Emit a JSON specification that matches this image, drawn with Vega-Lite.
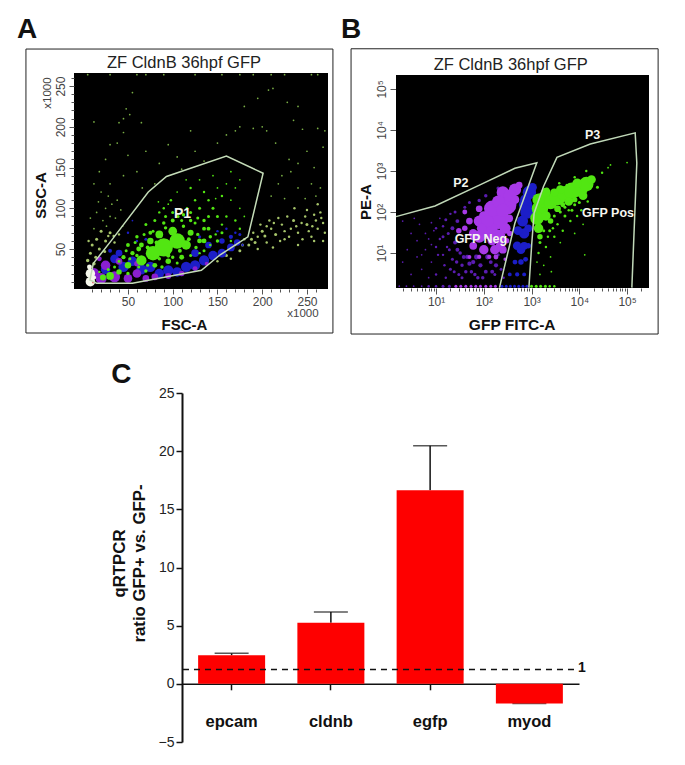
{"$schema":"https://vega.github.io/schema/vega-lite/v6.json","padding":0,"background":"white","spacing":0,"config":{"font":"Liberation Sans","view":{"stroke":null},"axis":{"grid":false}},
"vconcat":[{"spacing":0,"hconcat":[
{"width":254,"height":216,"view":{"fill":"#000000","stroke":null},
"encoding":{"x":{"field":"x","type":"quantitative","scale":{"domain":[-10.3,273.5],"nice":false,"zero":false},"axis":{"title":"FSC-A","titleFontSize":15,"titleFontWeight":"bold","titleColor":"#111","titleX":110,"titleY":35,"titleBaseline":"middle","titleAnchor":"middle","values":[10,20,30,40,50,60,70,80,90,100,110,120,130,140,150,160,170,180,190,200,210,220,230,240,250,260],"labelExpr":"datum.value%50===0?datum.value:''","labelFontSize":12,"labelColor":"#444","labelPadding":2,"labelOverlap":false,"domain":false,"tickColor":"#555","tickSize":{"condition":{"test":"datum.value%50===0","value":5},"value":3}}},
"y":{"field":"y","type":"quantitative","scale":{"domain":[1,266],"nice":false,"zero":false},"axis":{"title":"SSC-A","titleFontSize":15,"titleFontWeight":"bold","titleColor":"#111","titleX":-33.5,"titleY":122,"titleAngle":-90,"titleBaseline":"middle","titleAnchor":"middle","values":[10,20,30,40,50,60,70,80,90,100,110,120,130,140,150,160,170,180,190,200,210,220,230,240,250,260],"labelExpr":"datum.value%50===0?datum.value:''","labelFontSize":12,"labelColor":"#444","labelAngle":-90,"labelAlign":"center","labelBaseline":"middle","labelPadding":9,"labelOverlap":false,"domain":false,"tickColor":"#555","tickSize":{"condition":{"test":"datum.value%50===0","value":5},"value":3}}}},
"layer":[
{"data":{"values":[{"x":-92,"x2":286.8,"y":355.5,"y2":-64.1}]},"mark":{"type":"rect","opacity":0},"encoding":{"x2":{"field":"x2"},"y2":{"field":"y2"}}},
{"data":{"values":[{"x":-64,"x2":279,"y":295.4,"y2":-53}]},"mark":{"type":"rect","fill":null,"stroke":"#222","strokeWidth":1},"encoding":{"x2":{"field":"x2"},"y2":{"field":"y2"}}},
{"data":{"values":[
{"x":5,"y":264,"pop":"bg","n":1},{"x":30,"y":264,"pop":"bg","n":1},{"x":60,"y":264,"pop":"bg","n":1},{"x":70,"y":264,"pop":"bg","n":1},{"x":90,"y":264,"pop":"bg","n":1},{"x":125,"y":264,"pop":"bg","n":1},{"x":155,"y":264,"pop":"bg","n":1},{"x":175,"y":264,"pop":"bg","n":1},{"x":190,"y":264,"pop":"bg","n":1},{"x":210,"y":264,"pop":"bg","n":1},{"x":225,"y":264,"pop":"bg","n":1},{"x":255,"y":264,"pop":"bg","n":1},{"x":262,"y":264,"pop":"bg","n":1},
{"x":55,"y":242,"pop":"bg","n":1},{"x":48,"y":222,"pop":"bg","n":1},{"x":52,"y":215,"pop":"bg","n":1},{"x":45,"y":210,"pop":"bg","n":1},{"x":40,"y":205,"pop":"bg","n":1},{"x":12,"y":206,"pop":"bg","n":1},{"x":45,"y":193,"pop":"bg","n":1},{"x":38,"y":180,"pop":"bg","n":1},{"x":30,"y":178,"pop":"bg","n":1},{"x":25,"y":160,"pop":"bg","n":1},{"x":50,"y":165,"pop":"bg","n":1},{"x":70,"y":170,"pop":"bg","n":1},{"x":85,"y":155,"pop":"bg","n":1},{"x":105,"y":163,"pop":"bg","n":1},{"x":125,"y":170,"pop":"bg","n":1},{"x":135,"y":158,"pop":"bg","n":1},{"x":150,"y":180,"pop":"bg","n":1},{"x":160,"y":190,"pop":"bg","n":1},{"x":170,"y":195,"pop":"bg","n":1},{"x":175,"y":200,"pop":"bg","n":1},{"x":190,"y":198,"pop":"bg","n":1},{"x":200,"y":200,"pop":"bg","n":1},{"x":205,"y":195,"pop":"bg","n":1},{"x":180,"y":225,"pop":"bg","n":1},{"x":195,"y":235,"pop":"bg","n":1},{"x":207,"y":245,"pop":"bg","n":1},{"x":212,"y":247,"pop":"bg","n":1},{"x":228,"y":230,"pop":"bg","n":1},{"x":240,"y":225,"pop":"bg","n":1},{"x":235,"y":208,"pop":"bg","n":1},{"x":245,"y":197,"pop":"bg","n":1},{"x":262,"y":198,"pop":"bg","n":1},{"x":270,"y":195,"pop":"bg","n":1},{"x":250,"y":170,"pop":"bg","n":1},{"x":268,"y":175,"pop":"bg","n":1},{"x":230,"y":160,"pop":"bg","n":1},{"x":240,"y":155,"pop":"bg","n":1},{"x":232,"y":145,"pop":"bg","n":1},{"x":255,"y":130,"pop":"bg","n":1},{"x":265,"y":125,"pop":"bg","n":1},{"x":222,"y":140,"pop":"bg","n":1},{"x":218,"y":130,"pop":"bg","n":1},{"x":240,"y":125,"pop":"bg","n":1},{"x":260,"y":115,"pop":"bg","n":1},{"x":60,"y":145,"pop":"bg","n":1},{"x":45,"y":140,"pop":"bg","n":1},{"x":30,"y":130,"pop":"bg","n":1},{"x":18,"y":145,"pop":"bg","n":1},{"x":12,"y":130,"pop":"bg","n":1},{"x":20,"y":120,"pop":"bg","n":1},{"x":28,"y":115,"pop":"bg","n":1},{"x":32,"y":105,"pop":"bg","n":1},{"x":25,"y":100,"pop":"bg","n":1},{"x":38,"y":110,"pop":"bg","n":1},{"x":15,"y":95,"pop":"bg","n":1},{"x":30,"y":90,"pop":"bg","n":1},{"x":22,"y":85,"pop":"bg","n":1},{"x":36,"y":88,"pop":"bg","n":1},{"x":12,"y":75,"pop":"bg","n":1},{"x":42,"y":98,"pop":"bg","n":1},{"x":17,"y":108,"pop":"bg","n":1},{"x":8,"y":88,"pop":"bg","n":1},{"x":26,"y":78,"pop":"bg","n":1},{"x":44,"y":78,"pop":"bg","n":1},{"x":80,"y":130,"pop":"bg","n":1},{"x":66,"y":125,"pop":"bg","n":1},{"x":110,"y":148,"pop":"bg","n":1},{"x":95,"y":178,"pop":"bg","n":1},{"x":65,"y":205,"pop":"bg","n":1},{"x":120,"y":195,"pop":"bg","n":1},{"x":215,"y":180,"pop":"bg","n":1},{"x":258,"y":150,"pop":"bg","n":1},{"x":225,"y":112,"pop":"bg","n":1},{"x":248,"y":112,"pop":"bg","n":1},{"x":210,"y":115,"pop":"bg","n":1},
{"x":20,"y":72,"pop":"tail","n":3},{"x":30,"y":70,"pop":"tail","n":3},{"x":40,"y":68,"pop":"tail","n":2},{"x":15,"y":62,"pop":"tail","n":3},{"x":25,"y":60,"pop":"tail","n":3},{"x":35,"y":58,"pop":"tail","n":2},{"x":10,"y":55,"pop":"tail","n":3},{"x":18,"y":50,"pop":"tail","n":3},{"x":8,"y":45,"pop":"tail","n":3},{"x":14,"y":40,"pop":"tail","n":3},{"x":6,"y":60,"pop":"tail","n":2},{"x":24,"y":47,"pop":"tail","n":3},{"x":12,"y":32,"pop":"tail","n":4},{"x":5,"y":36,"pop":"tail","n":4},{"x":28,"y":66,"pop":"tail","n":2},{"x":34,"y":66,"pop":"tail","n":2},
{"x":170,"y":55,"pop":"tail","n":2},{"x":180,"y":62,"pop":"tail","n":2},{"x":190,"y":70,"pop":"tail","n":2},{"x":195,"y":65,"pop":"tail","n":2},{"x":200,"y":72,"pop":"tail","n":3},{"x":205,"y":78,"pop":"tail","n":2},{"x":210,"y":75,"pop":"tail","n":2},{"x":215,"y":68,"pop":"tail","n":3},{"x":220,"y":60,"pop":"tail","n":2},{"x":222,"y":80,"pop":"tail","n":2},{"x":225,"y":72,"pop":"tail","n":2},{"x":230,"y":65,"pop":"tail","n":2},{"x":235,"y":85,"pop":"tail","n":3},{"x":238,"y":78,"pop":"tail","n":2},{"x":240,"y":70,"pop":"tail","n":2},{"x":245,"y":62,"pop":"tail","n":2},{"x":248,"y":90,"pop":"tail","n":2},{"x":250,"y":80,"pop":"tail","n":3},{"x":252,"y":72,"pop":"tail","n":2},{"x":255,"y":65,"pop":"tail","n":2},{"x":258,"y":92,"pop":"tail","n":2},{"x":260,"y":85,"pop":"tail","n":2},{"x":262,"y":75,"pop":"tail","n":2},{"x":265,"y":95,"pop":"tail","n":2},{"x":268,"y":82,"pop":"tail","n":2},{"x":270,"y":70,"pop":"tail","n":2},{"x":228,"y":90,"pop":"tail","n":2},{"x":218,"y":88,"pop":"tail","n":2},{"x":208,"y":85,"pop":"tail","n":2},{"x":198,"y":80,"pop":"tail","n":2},{"x":185,"y":55,"pop":"tail","n":3},{"x":175,"y":48,"pop":"tail","n":3},{"x":160,"y":42,"pop":"tail","n":3},{"x":150,"y":35,"pop":"tail","n":2},{"x":165,"y":38,"pop":"tail","n":2},{"x":195,"y":50,"pop":"tail","n":2},{"x":205,"y":58,"pop":"tail","n":2},{"x":212,"y":52,"pop":"tail","n":2},{"x":240,"y":55,"pop":"tail","n":2},{"x":258,"y":60,"pop":"tail","n":2},{"x":268,"y":60,"pop":"tail","n":2},{"x":250,"y":98,"pop":"tail","n":2},{"x":262,"y":105,"pop":"tail","n":2},{"x":236,"y":100,"pop":"tail","n":2},{"x":188,"y":62,"pop":"tail","n":3},{"x":192,"y":58,"pop":"tail","n":3},{"x":203,"y":66,"pop":"tail","n":3},{"x":213,"y":82,"pop":"tail","n":2},{"x":178,"y":55,"pop":"tail","n":3},{"x":225,"y":62,"pop":"tail","n":2},{"x":232,"y":75,"pop":"tail","n":2},{"x":244,"y":82,"pop":"tail","n":2},{"x":256,"y":78,"pop":"tail","n":2},{"x":266,"y":88,"pop":"tail","n":2},
{"x":25,"y":25,"pop":"blue","n":30},{"x":35,"y":38,"pop":"blue","n":25},{"x":45,"y":28,"pop":"blue","n":35},{"x":55,"y":35,"pop":"blue","n":30},{"x":65,"y":25,"pop":"blue","n":35},{"x":75,"y":28,"pop":"blue","n":35},{"x":85,"y":20,"pop":"blue","n":30},{"x":95,"y":24,"pop":"blue","n":35},{"x":105,"y":22,"pop":"blue","n":30},{"x":115,"y":28,"pop":"blue","n":35},{"x":125,"y":30,"pop":"blue","n":35},{"x":135,"y":36,"pop":"blue","n":35},{"x":145,"y":42,"pop":"blue","n":30},{"x":155,"y":45,"pop":"blue","n":25},{"x":165,"y":52,"pop":"blue","n":20},{"x":172,"y":58,"pop":"blue","n":14},{"x":40,"y":45,"pop":"blue","n":15},{"x":125,"y":45,"pop":"blue","n":20},{"x":140,"y":55,"pop":"blue","n":15},{"x":155,"y":60,"pop":"blue","n":10},{"x":165,"y":65,"pop":"blue","n":6},{"x":30,"y":48,"pop":"blue","n":5},{"x":60,"y":60,"pop":"blue","n":2},{"x":50,"y":70,"pop":"blue","n":2},{"x":70,"y":62,"pop":"blue","n":3},{"x":120,"y":70,"pop":"blue","n":2},{"x":130,"y":65,"pop":"blue","n":3},{"x":170,"y":70,"pop":"blue","n":2},{"x":178,"y":55,"pop":"blue","n":2},{"x":55,"y":85,"pop":"blue","n":1},{"x":160,"y":75,"pop":"blue","n":2},{"x":175,"y":68,"pop":"blue","n":3},{"x":150,"y":72,"pop":"blue","n":2},
{"x":12,"y":20,"pop":"purple","n":40},{"x":20,"y":14,"pop":"purple","n":40},{"x":25,"y":30,"pop":"purple","n":30},{"x":35,"y":16,"pop":"purple","n":40},{"x":40,"y":35,"pop":"purple","n":15},{"x":50,"y":14,"pop":"purple","n":25},{"x":60,"y":20,"pop":"purple","n":25},{"x":70,"y":14,"pop":"purple","n":15},{"x":80,"y":16,"pop":"purple","n":15},{"x":95,"y":17,"pop":"purple","n":12},{"x":110,"y":20,"pop":"purple","n":10},{"x":125,"y":26,"pop":"purple","n":8},{"x":60,"y":32,"pop":"purple","n":10},{"x":138,"y":32,"pop":"purple","n":5},{"x":18,"y":38,"pop":"purple","n":8},
{"x":90,"y":100,"pop":"green","n":2},{"x":95,"y":105,"pop":"green","n":1},{"x":85,"y":95,"pop":"green","n":2},{"x":100,"y":95,"pop":"green","n":3},{"x":110,"y":85,"pop":"green","n":3},{"x":120,"y":95,"pop":"green","n":3},{"x":130,"y":100,"pop":"green","n":3},{"x":125,"y":110,"pop":"green","n":2},{"x":135,"y":120,"pop":"green","n":2},{"x":140,"y":110,"pop":"green","n":2},{"x":150,"y":125,"pop":"green","n":1},{"x":155,"y":115,"pop":"green","n":2},{"x":160,"y":130,"pop":"green","n":1},{"x":170,"y":125,"pop":"green","n":1},{"x":165,"y":110,"pop":"green","n":1},{"x":175,"y":100,"pop":"green","n":1},{"x":145,"y":100,"pop":"green","n":3},{"x":150,"y":90,"pop":"green","n":3},{"x":135,"y":85,"pop":"green","n":4},{"x":160,"y":90,"pop":"green","n":2},{"x":170,"y":85,"pop":"green","n":2},{"x":180,"y":90,"pop":"green","n":1},{"x":175,"y":75,"pop":"green","n":2},{"x":120,"y":125,"pop":"green","n":2},{"x":105,"y":120,"pop":"green","n":1},{"x":115,"y":135,"pop":"green","n":1},{"x":130,"y":135,"pop":"green","n":1},{"x":145,"y":140,"pop":"green","n":1},{"x":165,"y":145,"pop":"green","n":1},{"x":175,"y":135,"pop":"green","n":1},{"x":80,"y":85,"pop":"green","n":3},{"x":70,"y":80,"pop":"green","n":3},{"x":75,"y":70,"pop":"green","n":5},{"x":60,"y":65,"pop":"green","n":4},{"x":140,"y":75,"pop":"green","n":5},{"x":155,"y":70,"pop":"green","n":3},{"x":165,"y":60,"pop":"green","n":2},{"x":150,"y":60,"pop":"green","n":4},{"x":135,"y":60,"pop":"green","n":8},{"x":50,"y":55,"pop":"green","n":5},{"x":55,"y":45,"pop":"green","n":6},{"x":65,"y":55,"pop":"green","n":8},{"x":45,"y":40,"pop":"green","n":6},{"x":112,"y":92,"pop":"green","n":4},{"x":92,"y":90,"pop":"green","n":3},{"x":128,"y":88,"pop":"green","n":3},{"x":142,"y":65,"pop":"green","n":4},{"x":120,"y":42,"pop":"green","n":3},{"x":105,"y":33,"pop":"green","n":3},{"x":135,"y":48,"pop":"green","n":3},{"x":88,"y":28,"pop":"green","n":4},{"x":70,"y":23,"pop":"green","n":4},{"x":50,"y":20,"pop":"green","n":4},{"x":155,"y":80,"pop":"green","n":2},{"x":148,"y":112,"pop":"green","n":1},
{"x":60,"y":42,"pop":"green","n":4},{"x":72,"y":52,"pop":"green","n":5},{"x":82,"y":58,"pop":"green","n":6},{"x":95,"y":42,"pop":"green","n":6},{"x":108,"y":48,"pop":"green","n":5},{"x":118,"y":62,"pop":"green","n":5},{"x":126,"y":52,"pop":"green","n":4},{"x":128,"y":68,"pop":"green","n":4},{"x":112,"y":78,"pop":"green","n":4},{"x":92,"y":76,"pop":"green","n":4},{"x":78,"y":72,"pop":"green","n":3},{"x":68,"y":68,"pop":"green","n":3},{"x":58,"y":58,"pop":"green","n":3},{"x":48,"y":48,"pop":"green","n":3},{"x":40,"y":35,"pop":"green","n":3},{"x":72,"y":30,"pop":"green","n":3},{"x":85,"y":38,"pop":"green","n":4},{"x":100,"y":40,"pop":"green","n":4},{"x":52,"y":38,"pop":"green","n":3},{"x":62,"y":28,"pop":"green","n":3},{"x":35,"y":28,"pop":"green","n":3},{"x":28,"y":25,"pop":"green","n":3},{"x":18,"y":22,"pop":"green","n":2},{"x":130,"y":45,"pop":"green","n":2},{"x":142,"y":55,"pop":"green","n":2},{"x":148,"y":68,"pop":"green","n":2},{"x":106,"y":90,"pop":"green","n":3},{"x":116,"y":100,"pop":"green","n":2},{"x":98,"y":110,"pop":"green","n":2},{"x":84,"y":108,"pop":"green","n":1},{"x":140,"y":90,"pop":"green","n":3},{"x":125,"y":82,"pop":"green","n":3},
{"x":90,"y":52,"pop":"green","n":110},{"x":105,"y":60,"pop":"green","n":80},{"x":78,"y":45,"pop":"green","n":70},{"x":65,"y":36,"pop":"green","n":35},{"x":115,"y":55,"pop":"green","n":30},{"x":100,"y":72,"pop":"green","n":25},{"x":85,"y":68,"pop":"green","n":20},{"x":120,"y":70,"pop":"green","n":12},{"x":50,"y":30,"pop":"green","n":14},{"x":40,"y":22,"pop":"green","n":10},{"x":30,"y":17,"pop":"green","n":20},{"x":22,"y":15,"pop":"green","n":12},{"x":130,"y":60,"pop":"green","n":8},{"x":75,"y":60,"pop":"green","n":14},{"x":62,"y":50,"pop":"green","n":8},{"x":110,"y":40,"pop":"green","n":8},{"x":95,"y":35,"pop":"green","n":10},{"x":80,"y":30,"pop":"green","n":8},{"x":135,"y":75,"pop":"green","n":5},{"x":120,"y":85,"pop":"green","n":4},{"x":100,"y":85,"pop":"green","n":5},{"x":90,"y":82,"pop":"green","n":4},
{"x":8,"y":10,"pop":"core","n":30},{"x":8,"y":20,"pop":"core","n":30},{"x":7,"y":28,"pop":"core","n":8},{"x":12,"y":15,"pop":"core","n":6},{"x":11,"y":9,"pop":"red","n":1}
]},"mark":{"type":"circle","opacity":1},"encoding":{"color":{"field":"pop","type":"nominal","legend":null,"scale":{"domain":["bg","tail","blue","purple","green","core","red","dark","violet"],"range":["#79ad45","#a6c46a","#1c1ec8","#8a1fd0","#52e612","#f6f8ec","#e8304a","#5a1cb0","#a83ae8"]}},"size":{"field":"n","type":"quantitative","legend":null,"scale":{"type":"linear","domain":[1,100],"range":[3,300],"zero":false}}}},
{"data":{"values":[{"x":11.3,"y":32.4,"i":0},{"x":31.8,"y":61,"i":1},{"x":72.7,"y":120,"i":2},{"x":93,"y":139,"i":3},{"x":160,"y":164,"i":4},{"x":201,"y":143,"i":5},{"x":184,"y":65,"i":6},{"x":153,"y":43,"i":7},{"x":132,"y":24,"i":8},{"x":55,"y":8,"i":9},{"x":15,"y":8,"i":10},{"x":7.5,"y":12,"i":11},{"x":11.3,"y":32.4,"i":12}]},"mark":{"type":"line","color":"#c4dcb8","strokeWidth":1.5},"encoding":{"order":{"field":"i"}}},
{"data":{"values":[{"x":111,"y":93,"label":"P1"}]},"mark":{"type":"text","color":"#f4f8ee","fontWeight":"bold","fontSize":14},"encoding":{"text":{"field":"label"}}},
{"data":{"values":[{"x":112.6,"y":278.6,"label":"ZF CldnB 36hpf GFP"}]},"mark":{"type":"text","color":"#222","fontSize":16.5},"encoding":{"text":{"field":"label"}}},
{"data":{"values":[{"x":245.5,"y":-29.8,"label":"x1000"}]},"mark":{"type":"text","color":"#444","fontSize":11.5},"encoding":{"text":{"field":"label"}}},
{"data":{"values":[{"x":-39.7,"y":241.4,"label":"x1000"}]},"mark":{"type":"text","color":"#444","fontSize":11.5,"angle":270},"encoding":{"text":{"field":"label"}}},
{"data":{"values":[{"x":-62.8,"y":318.7,"label":"A"}]},"mark":{"type":"text","color":"#111","fontSize":28,"fontWeight":"bold"},"encoding":{"text":{"field":"label"}}}
]},
{"width":253,"height":215,
"encoding":{"x":{"field":"x","type":"quantitative","scale":{"type":"log","domain":[1.45,288000],"nice":false,"zero":false},"axis":{"title":"GFP FITC-A","titleFontSize":15.5,"titleFontWeight":"bold","titleColor":"#111","titleX":115.7,"titleY":36,"titleBaseline":"middle","titleAnchor":"middle","values":[2,3,4,5,6,7,8,9,10,20,30,40,50,60,70,80,90,100,200,300,400,500,600,700,800,900,1000,2000,3000,4000,5000,6000,7000,8000,9000,10000,20000,30000,40000,50000,60000,70000,80000,90000,100000,200000],"labelExpr":"datum.value===10?'10¹':datum.value===100?'10²':datum.value===1000?'10³':datum.value===10000?'10⁴':datum.value===100000?'10⁵':''","labelFontSize":12,"labelColor":"#444","labelPadding":2,"labelOverlap":false,"domain":false,"tickColor":"#555","tickSize":{"condition":{"test":"datum.value===10||datum.value===100||datum.value===1000||datum.value===10000||datum.value===100000","value":6},"value":3}}},
"y":{"field":"y","type":"quantitative","scale":{"type":"log","domain":[1.4,245000],"nice":false,"zero":false},"axis":{"title":"PE-A","titleFontSize":15,"titleFontWeight":"bold","titleColor":"#111","titleX":-31,"titleY":128.7,"titleAngle":-90,"titleBaseline":"middle","titleAnchor":"middle","values":[10,100,1000,10000,100000],"labelExpr":"datum.value===10?'10¹':datum.value===100?'10²':datum.value===1000?'10³':datum.value===10000?'10⁴':'10⁵'","labelFontSize":12,"labelColor":"#444","labelAngle":-90,"labelAlign":"center","labelBaseline":"middle","labelPadding":9,"labelOverlap":false,"domain":false,"tickColor":"#555","tickSize":6}}},
"layer":[
{"data":{"values":[{"x":0.1074,"x2":1640000,"y":10000000,"y2":0.0676}]},"mark":{"type":"rect","opacity":0},"encoding":{"x2":{"field":"x2"},"y2":{"field":"y2"}}},
{"data":{"values":[{"x":0.166,"x2":447000,"y":955000,"y2":0.1056}]},"mark":{"type":"rect","fill":null,"stroke":"#222","strokeWidth":1},"encoding":{"x2":{"field":"x2"},"y2":{"field":"y2"}}},
{"data":{"values":[{"x":1.45,"x2":288000,"y":219000,"y2":1.4}]},"mark":{"type":"rect","fill":"#000000"},"encoding":{"x2":{"field":"x2"},"y2":{"field":"y2"}}},
{"data":{"values":[
{"x":2,"y":60,"pop":"dark","n":1},{"x":3,"y":30,"pop":"dark","n":1},{"x":2.5,"y":12,"pop":"dark","n":1},{"x":2,"y":6,"pop":"dark","n":1},{"x":3,"y":3,"pop":"dark","n":1},{"x":4,"y":8,"pop":"dark","n":1},{"x":4,"y":20,"pop":"dark","n":1},{"x":4.5,"y":50,"pop":"dark","n":1},{"x":5,"y":4,"pop":"dark","n":1},{"x":6,"y":12,"pop":"dark","n":1},{"x":6,"y":30,"pop":"dark","n":1},{"x":7,"y":2.5,"pop":"dark","n":1},{"x":8,"y":6,"pop":"dark","n":1},{"x":8,"y":16,"pop":"dark","n":1},{"x":8,"y":55,"pop":"dark","n":1},{"x":9,"y":35,"pop":"dark","n":1},{"x":10,"y":3,"pop":"dark","n":2},{"x":11,"y":9,"pop":"dark","n":2},{"x":12,"y":22,"pop":"dark","n":2},{"x":12,"y":70,"pop":"dark","n":1},{"x":14,"y":45,"pop":"dark","n":2},{"x":15,"y":5,"pop":"dark","n":2},{"x":16,"y":2.5,"pop":"dark","n":2},{"x":17,"y":14,"pop":"dark","n":2},{"x":18,"y":30,"pop":"dark","n":3},{"x":20,"y":90,"pop":"dark","n":2},{"x":22,"y":7,"pop":"dark","n":3},{"x":24,"y":3.5,"pop":"dark","n":3},{"x":25,"y":18,"pop":"dark","n":5},{"x":28,"y":60,"pop":"dark","n":5},{"x":32,"y":10,"pop":"dark","n":4},{"x":35,"y":5,"pop":"dark","n":4},{"x":35,"y":2.5,"pop":"dark","n":3},{"x":40,"y":130,"pop":"dark","n":3},{"x":45,"y":8,"pop":"dark","n":6},{"x":55,"y":3.5,"pop":"dark","n":4},{"x":60,"y":6,"pop":"dark","n":6},{"x":75,"y":2.5,"pop":"dark","n":4},{"x":85,"y":5,"pop":"dark","n":6},{"x":110,"y":3.5,"pop":"dark","n":5},{"x":140,"y":6,"pop":"dark","n":5},{"x":170,"y":3,"pop":"dark","n":3},{"x":200,"y":9,"pop":"dark","n":3},{"x":110,"y":250,"pop":"dark","n":4},{"x":200,"y":380,"pop":"dark","n":4},
{"x":5,"y":9,"pop":"dark","n":1},{"x":7,"y":22,"pop":"dark","n":1},{"x":10,"y":14,"pop":"dark","n":2},{"x":10,"y":40,"pop":"dark","n":2},{"x":14,"y":25,"pop":"dark","n":3},{"x":14,"y":9,"pop":"dark","n":2},{"x":19,"y":12,"pop":"dark","n":3},{"x":20,"y":4,"pop":"dark","n":3},{"x":22,"y":40,"pop":"dark","n":5},{"x":27,"y":6,"pop":"dark","n":4},{"x":28,"y":12,"pop":"dark","n":5},{"x":30,"y":3,"pop":"dark","n":3},{"x":38,"y":8,"pop":"dark","n":5},{"x":42,"y":3.5,"pop":"dark","n":4},{"x":50,"y":5.5,"pop":"dark","n":6},{"x":65,"y":3,"pop":"dark","n":4},{"x":70,"y":8,"pop":"dark","n":8},{"x":95,"y":2.5,"pop":"dark","n":4},{"x":120,"y":8,"pop":"dark","n":8},{"x":150,"y":3.5,"pop":"dark","n":5},{"x":180,"y":5,"pop":"dark","n":6},{"x":230,"y":4,"pop":"dark","n":3},{"x":260,"y":2.5,"pop":"dark","n":2},{"x":16,"y":65,"pop":"dark","n":3},{"x":25,"y":100,"pop":"dark","n":3},{"x":50,"y":170,"pop":"dark","n":3},{"x":80,"y":190,"pop":"dark","n":4},{"x":3.5,"y":70,"pop":"dark","n":1},
{"x":1.7,"y":1.55,"pop":"dark","n":1},{"x":2.4,"y":1.55,"pop":"dark","n":1},{"x":3.4,"y":1.55,"pop":"dark","n":1},{"x":5,"y":1.55,"pop":"dark","n":1},{"x":7,"y":1.55,"pop":"dark","n":2},{"x":10,"y":1.55,"pop":"dark","n":2},{"x":14,"y":1.55,"pop":"dark","n":3},{"x":19,"y":1.55,"pop":"dark","n":3},{"x":26,"y":1.55,"pop":"violet","n":3},{"x":33,"y":1.55,"pop":"violet","n":3},{"x":42,"y":1.55,"pop":"violet","n":3},{"x":54,"y":1.55,"pop":"violet","n":3},{"x":68,"y":1.55,"pop":"violet","n":3},{"x":85,"y":1.55,"pop":"violet","n":3},{"x":110,"y":1.55,"pop":"violet","n":3},{"x":140,"y":1.55,"pop":"violet","n":3},{"x":175,"y":1.55,"pop":"violet","n":3},
{"x":240,"y":1.55,"pop":"blue","n":3},{"x":295,"y":1.55,"pop":"blue","n":3},{"x":360,"y":1.55,"pop":"blue","n":3},{"x":440,"y":1.55,"pop":"blue","n":3},{"x":540,"y":1.55,"pop":"blue","n":3},{"x":660,"y":1.55,"pop":"blue","n":3},{"x":800,"y":1.55,"pop":"blue","n":3},
{"x":1000,"y":1.55,"pop":"green","n":3},{"x":1250,"y":1.55,"pop":"green","n":3},{"x":1550,"y":1.55,"pop":"green","n":3},{"x":1950,"y":1.55,"pop":"green","n":3},{"x":2400,"y":1.55,"pop":"green","n":2},{"x":3000,"y":1.55,"pop":"green","n":2},
{"x":900,"y":300,"pop":"blue","n":60},{"x":1050,"y":400,"pop":"blue","n":25},{"x":750,"y":150,"pop":"blue","n":60},{"x":800,"y":100,"pop":"blue","n":60},{"x":650,"y":60,"pop":"blue","n":40},{"x":700,"y":30,"pop":"blue","n":35},{"x":500,"y":15,"pop":"blue","n":25},{"x":600,"y":12,"pop":"blue","n":25},{"x":700,"y":15,"pop":"blue","n":20},{"x":750,"y":200,"pop":"blue","n":40},{"x":450,"y":6,"pop":"blue","n":8},{"x":600,"y":6,"pop":"blue","n":10},{"x":750,"y":7,"pop":"blue","n":8},{"x":350,"y":3,"pop":"blue","n":5},{"x":500,"y":3,"pop":"blue","n":6},{"x":700,"y":3,"pop":"blue","n":5},{"x":850,"y":40,"pop":"blue","n":20},{"x":850,"y":15,"pop":"blue","n":10},{"x":520,"y":35,"pop":"blue","n":25},
{"x":200,"y":70,"pop":"violet","n":150},{"x":130,"y":35,"pop":"violet","n":100},{"x":300,"y":150,"pop":"violet","n":130},{"x":150,"y":120,"pop":"violet","n":90},{"x":80,"y":25,"pop":"violet","n":50},{"x":450,"y":350,"pop":"violet","n":50},{"x":250,"y":300,"pop":"violet","n":50},{"x":80,"y":60,"pop":"violet","n":40},{"x":200,"y":25,"pop":"violet","n":70},{"x":280,"y":40,"pop":"violet","n":40},{"x":100,"y":12,"pop":"violet","n":30},{"x":170,"y":12,"pop":"violet","n":30},{"x":60,"y":15,"pop":"violet","n":20},{"x":50,"y":60,"pop":"violet","n":15},{"x":30,"y":35,"pop":"violet","n":10},{"x":40,"y":100,"pop":"violet","n":8},{"x":250,"y":12,"pop":"violet","n":20},{"x":550,"y":450,"pop":"violet","n":15},{"x":340,"y":70,"pop":"violet","n":20},{"x":80,"y":120,"pop":"violet","n":15},{"x":130,"y":8,"pop":"violet","n":6},{"x":280,"y":7,"pop":"violet","n":4},
{"x":60,"y":30,"pop":"violet","n":25},{"x":100,"y":80,"pop":"violet","n":30},{"x":200,"y":180,"pop":"violet","n":50},{"x":350,"y":250,"pop":"violet","n":50},{"x":120,"y":60,"pop":"violet","n":50},{"x":250,"y":110,"pop":"violet","n":60},{"x":90,"y":40,"pop":"violet","n":30},{"x":150,"y":20,"pop":"violet","n":30},{"x":220,"y":15,"pop":"violet","n":25},{"x":60,"y":25,"pop":"violet","n":15},{"x":40,"y":40,"pop":"violet","n":10},{"x":350,"y":30,"pop":"violet","n":10},{"x":300,"y":20,"pop":"violet","n":10},{"x":180,"y":8,"pop":"violet","n":8},{"x":80,"y":8,"pop":"violet","n":6},{"x":50,"y":8,"pop":"violet","n":5},{"x":450,"y":200,"pop":"violet","n":25},
{"x":1500,"y":120,"pop":"green","n":90},{"x":1300,"y":70,"pop":"green","n":60},{"x":1800,"y":200,"pop":"green","n":80},{"x":2500,"y":170,"pop":"green","n":60},{"x":1400,"y":40,"pop":"green","n":30},{"x":3500,"y":230,"pop":"green","n":90},{"x":5000,"y":280,"pop":"green","n":80},{"x":7000,"y":330,"pop":"green","n":90},{"x":10000,"y":380,"pop":"green","n":100},{"x":14000,"y":480,"pop":"green","n":70},{"x":18000,"y":620,"pop":"green","n":25},{"x":3500,"y":120,"pop":"green","n":15},{"x":2000,"y":80,"pop":"green","n":30},{"x":2500,"y":60,"pop":"green","n":10},{"x":1500,"y":25,"pop":"green","n":10},{"x":8000,"y":200,"pop":"green","n":10},{"x":12000,"y":250,"pop":"green","n":25},{"x":2100,"y":350,"pop":"green","n":6},{"x":4000,"y":350,"pop":"green","n":25},{"x":9000,"y":500,"pop":"green","n":30},{"x":6000,"y":180,"pop":"green","n":25},{"x":3000,"y":300,"pop":"green","n":20},{"x":2000,"y":300,"pop":"green","n":30},{"x":1400,"y":200,"pop":"green","n":50},{"x":24000,"y":400,"pop":"green","n":3},{"x":30000,"y":900,"pop":"green","n":2},{"x":40000,"y":1200,"pop":"green","n":1},{"x":45000,"y":1400,"pop":"green","n":1},{"x":8000,"y":700,"pop":"green","n":2},{"x":14000,"y":1000,"pop":"green","n":2},
{"x":1500,"y":18,"pop":"green","n":3},{"x":1400,"y":10,"pop":"green","n":2},{"x":2000,"y":14,"pop":"green","n":2},{"x":1300,"y":6,"pop":"green","n":1},{"x":1800,"y":5,"pop":"green","n":1},{"x":2500,"y":8,"pop":"green","n":1},{"x":1500,"y":3,"pop":"green","n":1},{"x":2600,"y":3.5,"pop":"green","n":1},{"x":3000,"y":25,"pop":"green","n":2},{"x":2400,"y":35,"pop":"green","n":3},{"x":3500,"y":50,"pop":"green","n":2},{"x":4000,"y":18,"pop":"green","n":1},{"x":4500,"y":35,"pop":"green","n":2},{"x":5000,"y":80,"pop":"green","n":3},{"x":6500,"y":60,"pop":"green","n":2},{"x":7000,"y":110,"pop":"green","n":3},{"x":8000,"y":30,"pop":"green","n":1},{"x":9000,"y":80,"pop":"green","n":2},{"x":11000,"y":110,"pop":"green","n":2},{"x":13000,"y":9,"pop":"green","n":1},{"x":12000,"y":50,"pop":"green","n":1},{"x":15000,"y":180,"pop":"green","n":2},{"x":4500,"y":150,"pop":"green","n":8},{"x":5500,"y":450,"pop":"green","n":3},{"x":3800,"y":500,"pop":"green","n":2},{"x":100000,"y":1600,"pop":"green","n":1},{"x":3000,"y":80,"pop":"green","n":3},{"x":4000,"y":100,"pop":"green","n":3},{"x":2800,"y":40,"pop":"green","n":2},{"x":5000,"y":130,"pop":"green","n":3},{"x":6000,"y":110,"pop":"green","n":2},{"x":8000,"y":150,"pop":"green","n":3},{"x":10000,"y":170,"pop":"green","n":3},{"x":2200,"y":25,"pop":"green","n":2},{"x":1800,"y":35,"pop":"green","n":3}
]},"mark":{"type":"circle","opacity":1},"encoding":{"color":{"field":"pop","type":"nominal","legend":null,"scale":{"domain":["bg","tail","blue","purple","green","core","red","dark","violet"],"range":["#79ad45","#a6c46a","#1c1ec8","#8a1fd0","#52e612","#f6f8ec","#e8304a","#5a1cb0","#a83ae8"]}},"size":{"field":"n","type":"quantitative","legend":null,"scale":{"type":"linear","domain":[1,100],"range":[3,300],"zero":false}}}},
{"data":{"values":[{"x":1.45,"y":77,"i":0},{"x":9.5,"y":140,"i":1},{"x":83,"y":457,"i":2},{"x":447,"y":1160,"i":3},{"x":1288,"y":1590,"i":4},{"x":447,"y":53,"i":5},{"x":213,"y":1.43,"i":6}]},"mark":{"type":"line","color":"#c0d8b8","strokeWidth":1.5},"encoding":{"order":{"field":"i"}}},
{"data":{"values":[{"x":880,"y":1.43,"i":0},{"x":1010,"y":17,"i":1},{"x":1130,"y":93,"i":2},{"x":1770,"y":414,"i":3},{"x":3400,"y":2140,"i":4},{"x":17000,"y":4560,"i":5},{"x":148000,"y":8500,"i":6},{"x":160000,"y":1570,"i":7},{"x":126000,"y":1.43,"i":8}]},"mark":{"type":"line","color":"#c0d8b8","strokeWidth":1.5},"encoding":{"order":{"field":"i"}}},
{"data":{"values":[{"x":33,"y":500,"label":"P2"},{"x":19000,"y":7600,"label":"P3"},{"x":87,"y":22,"label":"GFP Neg"},{"x":40000,"y":96,"label":"GFP Pos"}]},"mark":{"type":"text","color":"#f6f6f0","fontWeight":"bold","fontSize":12.5},"encoding":{"text":{"field":"label"}}},
{"data":{"values":[{"x":366,"y":384000,"label":"ZF CldnB 36hpf GFP"}]},"mark":{"type":"text","color":"#222","fontSize":16.5},"encoding":{"text":{"field":"label"}}},
{"data":{"values":[{"x":0.166,"y":2750000,"label":"B"}]},"mark":{"type":"text","color":"#111","fontSize":28,"fontWeight":"bold"},"encoding":{"text":{"field":"label"}}}
]}
]},
{"width":505,"height":349,"resolve":{"scale":{"x":"independent"},"axis":{"x":"independent"}},
"layer":[
{"data":{"values":[{"u":-1.324,"u2":5.568,"v":29.25,"v2":-6.98}]},"mark":{"type":"rect","opacity":0},"encoding":{"x":{"field":"u","type":"quantitative","axis":null,"scale":{"domain":[-0.588,4.5],"nice":false,"zero":false}},"x2":{"field":"u2"},"y":{"field":"v","type":"quantitative","scale":{"domain":[-5,25],"nice":false},"axis":{"title":["qRTPCR","ratio GFP+ vs. GFP-"],"titleFontSize":16.8,"titleFontWeight":"bold","titleColor":"#111","titleLineHeight":20,"titlePadding":10,"titleY":170,"offset":-108,"values":[-5,0,5,10,15,20,25],"labelFontSize":14,"labelColor":"#222","labelPadding":2,"domainColor":"#111","domainWidth":2,"tickColor":"#111","tickWidth":1.5,"tickSize":6}},"y2":{"field":"v2"}}},
{"data":{"values":[{"gene":"epcam","ratio":2.45,"upper":2.62},{"gene":"cldnb","ratio":5.25,"upper":6.17},{"gene":"egfp","ratio":16.63,"upper":20.47},{"gene":"myod","ratio":-1.68,"upper":-1.68}]},
"encoding":{"x":{"field":"gene","type":"nominal","sort":null,"scale":{"domain":["epcam","cldnb","egfp","myod"],"range":[108,505],"paddingInner":0.325,"paddingOuter":0.1625},"axis":{"title":null,"offset":-58.2,"labelAngle":0,"labelFontSize":16.5,"labelFontWeight":"bold","labelColor":"#111","labelPadding":24,"domainColor":"#111","domainWidth":1.5,"tickColor":"#111","tickWidth":1.5,"tickSize":6}}},
"layer":[
{"mark":{"type":"rule","color":"#111","strokeWidth":1.5},"encoding":{"y":{"field":"ratio","type":"quantitative","scale":{"domain":[-5,25],"nice":false}},"y2":{"field":"upper"}}},
{"mark":{"type":"tick","color":"#111","thickness":1.5,"size":34,"orient":"horizontal"},"encoding":{"y":{"field":"upper","type":"quantitative","scale":{"domain":[-5,25],"nice":false}}}},
{"mark":{"type":"bar","color":"#fe0000"},"encoding":{"y":{"field":"ratio","type":"quantitative","scale":{"domain":[-5,25],"nice":false}},"y2":{"datum":0}}}
]},
{"data":{"values":[{"u":0.51,"u2":4.46,"v":1.24}]},"mark":{"type":"rule","color":"#111","strokeWidth":1.5,"strokeDash":[6,5]},"encoding":{"x":{"field":"u","type":"quantitative","axis":null,"scale":{"domain":[-0.588,4.5],"nice":false,"zero":false}},"x2":{"field":"u2"},"y":{"field":"v","type":"quantitative","scale":{"domain":[-5,25],"nice":false}}}},
{"data":{"values":[{"u":4.53,"v":1.35,"label":"1"}]},"mark":{"type":"text","color":"#111","fontSize":14,"fontWeight":"bold"},"encoding":{"x":{"field":"u","type":"quantitative","axis":null,"scale":{"domain":[-0.588,4.5],"nice":false,"zero":false}},"y":{"field":"v","type":"quantitative","scale":{"domain":[-5,25],"nice":false}},"text":{"field":"label"}}},
{"data":{"values":[{"u":-0.11,"v":26.55,"label":"C"}]},"mark":{"type":"text","color":"#111","fontSize":28,"fontWeight":"bold"},"encoding":{"x":{"field":"u","type":"quantitative","axis":null,"scale":{"domain":[-0.588,4.5],"nice":false,"zero":false}},"y":{"field":"v","type":"quantitative","scale":{"domain":[-5,25],"nice":false}},"text":{"field":"label"}}}
]}
]}
